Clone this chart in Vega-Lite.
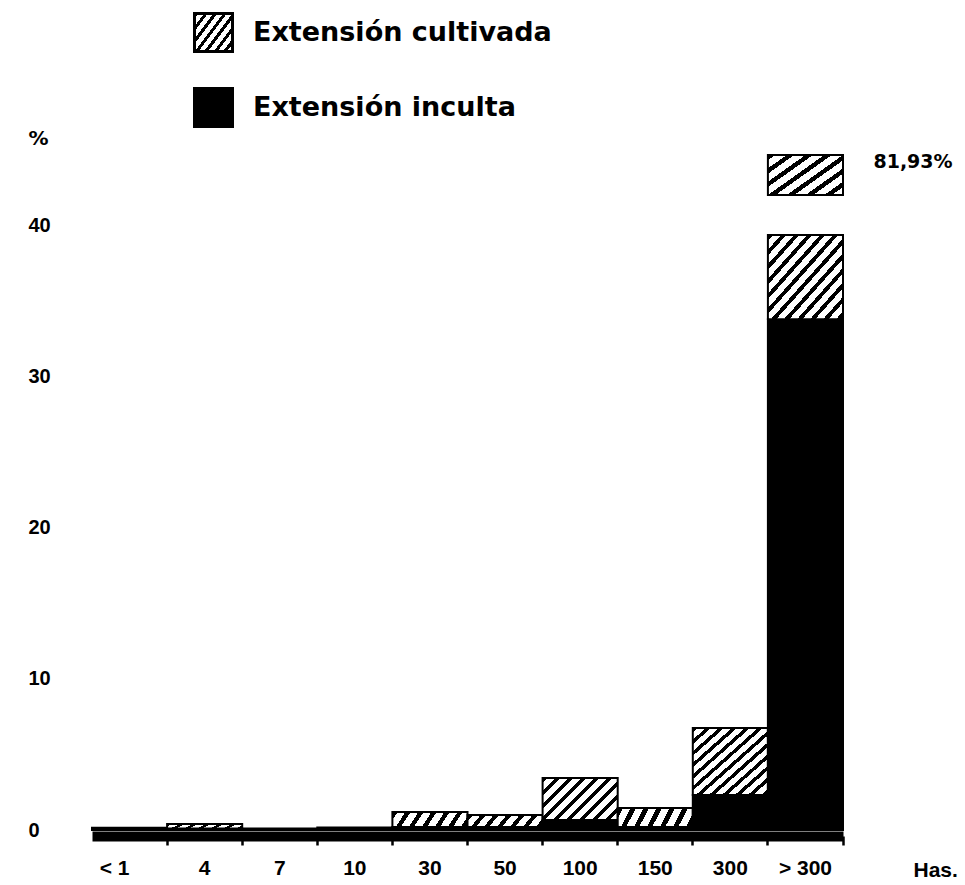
{
  "$schema": "https://vega.github.io/schema/vega-lite/v6.json",
  "autosize": {"type": "none"},
  "padding": {"left": 92, "top": 150, "right": 122, "bottom": 55},
  "width": 751,
  "height": 680,
  "background": "white",
  "config": {"view": {"stroke": null}},
  "layer": [
    {
      "data": {"values": [
        {"tamano": "< 1", "tipo": "Extensión inculta", "pct": 0.15},
        {"tamano": "4", "tipo": "Extensión inculta", "pct": 0.1},
        {"tamano": "4", "tipo": "Extensión cultivada", "pct": 0.3},
        {"tamano": "7", "tipo": "Extensión inculta", "pct": 0.1},
        {"tamano": "10", "tipo": "Extensión inculta", "pct": 0.05},
        {"tamano": "10", "tipo": "Extensión cultivada", "pct": 0.12},
        {"tamano": "30", "tipo": "Extensión inculta", "pct": 0.2},
        {"tamano": "30", "tipo": "Extensión cultivada", "pct": 0.99},
        {"tamano": "50", "tipo": "Extensión inculta", "pct": 0.2},
        {"tamano": "50", "tipo": "Extensión cultivada", "pct": 0.79},
        {"tamano": "100", "tipo": "Extensión inculta", "pct": 0.66},
        {"tamano": "100", "tipo": "Extensión cultivada", "pct": 2.78},
        {"tamano": "150", "tipo": "Extensión inculta", "pct": 0.2},
        {"tamano": "150", "tipo": "Extensión cultivada", "pct": 1.26},
        {"tamano": "300", "tipo": "Extensión inculta", "pct": 2.32},
        {"tamano": "300", "tipo": "Extensión cultivada", "pct": 4.43},
        {"tamano": "> 300", "tipo": "Extensión inculta", "pct": 33.8},
        {"tamano": "> 300", "tipo": "Extensión cultivada", "pct": 5.57}
      ]},
      "mark": {"type": "bar", "stroke": "black", "strokeWidth": 2},
      "encoding": {
        "x": {
          "field": "tamano", "type": "ordinal",
          "sort": ["< 1", "4", "7", "10", "30", "50", "100", "150", "300", "> 300"],
          "scale": {"paddingInner": 0, "paddingOuter": 0},
          "axis": {
            "title": "Has.", "bandPosition": 1, "labelAngle": 0,
            "labelFont": "Liberation Sans", "labelFontWeight": "bold", "labelFontSize": 21, "labelColor": "black",
            "labelAlign": {"condition": {"test": "datum.value === '< 1'", "value": "right"}, "value": "center"},
            "labelPadding": 12, "labelFlush": false, "labelOverlap": false,
            "ticks": true, "tickSize": 9, "tickWidth": 2.5, "tickColor": "black",
            "domain": true, "domainWidth": 10, "domainColor": "black", "offset": 6, "grid": false,
            "titleFont": "Liberation Sans", "titleFontSize": 21, "titleFontWeight": "bold", "titleColor": "black",
            "titleX": 821, "titleY": 34, "titleAlign": "left", "titleBaseline": "middle"
          }
        },
        "y": {
          "field": "pct", "type": "quantitative", "stack": "zero",
          "scale": {"domain": [0, 45], "nice": false},
          "title": "%",
          "axis": {
            "values": [0, 10, 20, 30, 40], "domain": false, "ticks": false, "tickSize": 0, "grid": false,
            "labelAlign": "left", "labelPadding": 64, "labelBaseline": "middle",
            "labelFont": "Liberation Sans", "labelFontSize": 20, "labelFontWeight": "bold", "labelColor": "black",
            "titleAngle": 0, "titleX": -64, "titleY": -12, "titleAlign": "left", "titleBaseline": "middle",
            "titleFont": "DejaVu Sans", "titleFontSize": 20, "titleFontWeight": "bold", "titleColor": "black"
          }
        },
        "order": {"field": "tipo", "type": "ordinal", "sort": "descending"},
        "fill": {
          "field": "tipo", "type": "nominal",
          "scale": {"domain": ["Extensión cultivada", "Extensión inculta"], "range": ["white", "black"]},
          "condition": [
            {"test": "datum.tipo === 'Extensión cultivada' && datum.pct < 2", "value": {"gradient": "linear", "x1": 0, "y1": 0, "x2": 1.193, "y2": 0.155, "stops": [
              {"offset":0,"color":"#000"},{"offset":0.0571,"color":"#000"},{"offset":0.0571,"color":"#fff"},{"offset":0.1429,"color":"#fff"},
              {"offset":0.1429,"color":"#000"},{"offset":0.2,"color":"#000"},{"offset":0.2,"color":"#fff"},{"offset":0.2857,"color":"#fff"},
              {"offset":0.2857,"color":"#000"},{"offset":0.3429,"color":"#000"},{"offset":0.3429,"color":"#fff"},{"offset":0.4286,"color":"#fff"},
              {"offset":0.4286,"color":"#000"},{"offset":0.4857,"color":"#000"},{"offset":0.4857,"color":"#fff"},{"offset":0.5714,"color":"#fff"},
              {"offset":0.5714,"color":"#000"},{"offset":0.6286,"color":"#000"},{"offset":0.6286,"color":"#fff"},{"offset":0.7143,"color":"#fff"},
              {"offset":0.7143,"color":"#000"},{"offset":0.7714,"color":"#000"},{"offset":0.7714,"color":"#fff"},{"offset":0.8571,"color":"#fff"},
              {"offset":0.8571,"color":"#000"},{"offset":0.9143,"color":"#000"},{"offset":0.9143,"color":"#fff"},{"offset":1,"color":"#fff"}
            ]}},
            {"test": "datum.tipo === 'Extensión cultivada' && datum.pct < 4", "value": {"gradient": "linear", "x1": 0, "y1": 0, "x2": 1.188, "y2": 0.665, "stops": [
              {"offset":0,"color":"#000"},{"offset":0.0444,"color":"#000"},{"offset":0.0444,"color":"#fff"},{"offset":0.1111,"color":"#fff"},
              {"offset":0.1111,"color":"#000"},{"offset":0.1556,"color":"#000"},{"offset":0.1556,"color":"#fff"},{"offset":0.2222,"color":"#fff"},
              {"offset":0.2222,"color":"#000"},{"offset":0.2667,"color":"#000"},{"offset":0.2667,"color":"#fff"},{"offset":0.3333,"color":"#fff"},
              {"offset":0.3333,"color":"#000"},{"offset":0.3778,"color":"#000"},{"offset":0.3778,"color":"#fff"},{"offset":0.4444,"color":"#fff"},
              {"offset":0.4444,"color":"#000"},{"offset":0.4889,"color":"#000"},{"offset":0.4889,"color":"#fff"},{"offset":0.5556,"color":"#fff"},
              {"offset":0.5556,"color":"#000"},{"offset":0.6,"color":"#000"},{"offset":0.6,"color":"#fff"},{"offset":0.6667,"color":"#fff"},
              {"offset":0.6667,"color":"#000"},{"offset":0.7111,"color":"#000"},{"offset":0.7111,"color":"#fff"},{"offset":0.7778,"color":"#fff"},
              {"offset":0.7778,"color":"#000"},{"offset":0.8222,"color":"#000"},{"offset":0.8222,"color":"#fff"},{"offset":0.8889,"color":"#fff"},
              {"offset":0.8889,"color":"#000"},{"offset":0.9333,"color":"#000"},{"offset":0.9333,"color":"#fff"},{"offset":1,"color":"#fff"}
            ]}},
            {"test": "datum.tipo === 'Extensión cultivada'", "value": {"gradient": "linear", "x1": 0, "y1": 0, "x2": 1.04, "y2": 1.04, "stops": [
              {"offset":0,"color":"#000"},{"offset":0.0333,"color":"#000"},{"offset":0.0333,"color":"#fff"},{"offset":0.0833,"color":"#fff"},
              {"offset":0.0833,"color":"#000"},{"offset":0.1167,"color":"#000"},{"offset":0.1167,"color":"#fff"},{"offset":0.1667,"color":"#fff"},
              {"offset":0.1667,"color":"#000"},{"offset":0.2,"color":"#000"},{"offset":0.2,"color":"#fff"},{"offset":0.25,"color":"#fff"},
              {"offset":0.25,"color":"#000"},{"offset":0.2833,"color":"#000"},{"offset":0.2833,"color":"#fff"},{"offset":0.3333,"color":"#fff"},
              {"offset":0.3333,"color":"#000"},{"offset":0.3667,"color":"#000"},{"offset":0.3667,"color":"#fff"},{"offset":0.4167,"color":"#fff"},
              {"offset":0.4167,"color":"#000"},{"offset":0.45,"color":"#000"},{"offset":0.45,"color":"#fff"},{"offset":0.5,"color":"#fff"},
              {"offset":0.5,"color":"#000"},{"offset":0.5333,"color":"#000"},{"offset":0.5333,"color":"#fff"},{"offset":0.5833,"color":"#fff"},
              {"offset":0.5833,"color":"#000"},{"offset":0.6167,"color":"#000"},{"offset":0.6167,"color":"#fff"},{"offset":0.6667,"color":"#fff"},
              {"offset":0.6667,"color":"#000"},{"offset":0.7,"color":"#000"},{"offset":0.7,"color":"#fff"},{"offset":0.75,"color":"#fff"},
              {"offset":0.75,"color":"#000"},{"offset":0.7833,"color":"#000"},{"offset":0.7833,"color":"#fff"},{"offset":0.8333,"color":"#fff"},
              {"offset":0.8333,"color":"#000"},{"offset":0.8667,"color":"#000"},{"offset":0.8667,"color":"#fff"},{"offset":0.9167,"color":"#fff"},
              {"offset":0.9167,"color":"#000"},{"offset":0.95,"color":"#000"},{"offset":0.95,"color":"#fff"},{"offset":1,"color":"#fff"}
            ]}}
          ],
          "legend": {
            "title": null, "orient": "none", "legendX": 101, "legendY": -63, "direction": "vertical",
            "values": ["Extensión inculta"],
            "symbolType": "square", "symbolSize": 1444, "symbolStrokeColor": "black", "symbolStrokeWidth": 3,
            "labelFont": "DejaVu Sans", "labelFontSize": 27, "labelFontWeight": "bold", "labelColor": "black",
            "labelOffset": 19, "labelLimit": 0
          }
        }
      }
    },
    {
      "data": {"values": [
        {"tamano": "> 300", "tipo": "Extensión cultivada", "desde": 42.02, "hasta": 44.67, "total": "81,93%"}
      ]},
      "layer": [
        {
          "mark": {"type": "bar", "strokeWidth": 2,
            "fill": {"gradient": "linear", "x1": 0, "y1": 0, "x2": 1.12, "y2": 0.84, "stops": [
              {"offset":0,"color":"#000"},{"offset":0.0571,"color":"#000"},{"offset":0.0571,"color":"#fff"},{"offset":0.1429,"color":"#fff"},
              {"offset":0.1429,"color":"#000"},{"offset":0.2,"color":"#000"},{"offset":0.2,"color":"#fff"},{"offset":0.2857,"color":"#fff"},
              {"offset":0.2857,"color":"#000"},{"offset":0.3429,"color":"#000"},{"offset":0.3429,"color":"#fff"},{"offset":0.4286,"color":"#fff"},
              {"offset":0.4286,"color":"#000"},{"offset":0.4857,"color":"#000"},{"offset":0.4857,"color":"#fff"},{"offset":0.5714,"color":"#fff"},
              {"offset":0.5714,"color":"#000"},{"offset":0.6286,"color":"#000"},{"offset":0.6286,"color":"#fff"},{"offset":0.7143,"color":"#fff"},
              {"offset":0.7143,"color":"#000"},{"offset":0.7714,"color":"#000"},{"offset":0.7714,"color":"#fff"},{"offset":0.8571,"color":"#fff"},
              {"offset":0.8571,"color":"#000"},{"offset":0.9143,"color":"#000"},{"offset":0.9143,"color":"#fff"},{"offset":1,"color":"#fff"}
            ]}},
          "encoding": {
            "x": {"field": "tamano", "type": "ordinal", "sort": ["< 1", "4", "7", "10", "30", "50", "100", "150", "300", "> 300"]},
            "y": {"field": "desde", "type": "quantitative", "title": "%"},
            "y2": {"field": "hasta"},
            "stroke": {
              "field": "tipo", "type": "nominal",
              "scale": {"domain": ["Extensión cultivada"], "range": ["black"]},
              "legend": {
                "title": null, "orient": "none", "legendX": 101, "legendY": -138, "direction": "vertical",
                "symbolType": "square", "symbolSize": 1444, "symbolStrokeWidth": 3,
                "labelFont": "DejaVu Sans", "labelFontSize": 27, "labelFontWeight": "bold", "labelColor": "black",
                "labelOffset": 19, "labelLimit": 0
              }
            }
          }
        },
        {
          "mark": {"type": "text", "align": "left", "baseline": "top", "dx": 68, "dy": -2, "font": "DejaVu Sans", "fontSize": 19, "fontWeight": "bold", "color": "black"},
          "encoding": {
            "x": {"field": "tamano", "type": "ordinal", "sort": ["< 1", "4", "7", "10", "30", "50", "100", "150", "300", "> 300"]},
            "y": {"field": "hasta", "type": "quantitative", "title": "%"},
            "text": {"field": "total"}
          }
        }
      ]
    }
  ]
}
